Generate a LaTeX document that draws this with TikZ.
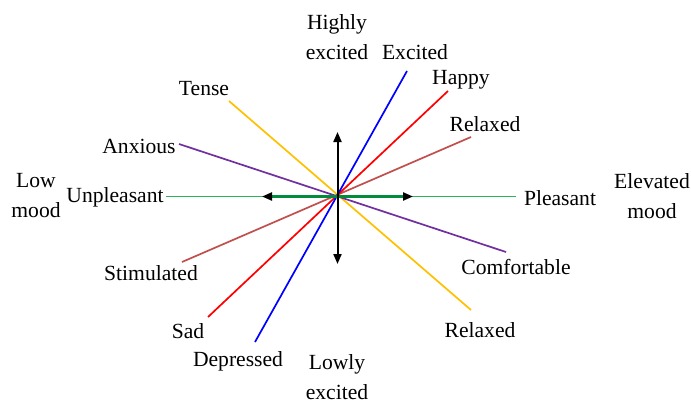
\documentclass[tikz,border=0pt]{standalone}
\usepackage{fontspec}
\setmainfont{Liberation Serif}
\newfontfamily\moodfont{Liberation Serif}
\usetikzlibrary{arrows.meta}
\definecolor{rayblue}{RGB}{0,0,255}
\definecolor{rayred}{RGB}{255,0,0}
\definecolor{raybrown}{RGB}{192,80,77}
\definecolor{rayyellow}{RGB}{255,192,0}
\definecolor{raypurple}{RGB}{112,48,160}
\definecolor{raygreen}{RGB}{46,178,96}
\definecolor{axisgreen}{RGB}{0,140,60}

\begin{document}
\begin{tikzpicture}[x=0.5pt, y=-0.5pt,
    >={Triangle[length=5pt, width=4pt, color=black]},
    lbl/.style={font=\moodfont\fontsize{10.8}{15}\selectfont, align=center, inner sep=0pt},
    ray/.style={line width=0.85pt},
]
    \useasboundingbox (0,0) rectangle (691,402);

    % Centre of the mood plane
    \coordinate (o) at (337.5,196.5);

    % Ray end points
    \coordinate (excitedEnd)    at (407,71);
    \coordinate (depressedEnd)  at (255,342);
    \coordinate (happyEnd)      at (448,91);
    \coordinate (sadEnd)        at (208,317);
    \coordinate (relaxedEnd)    at (471,137);
    \coordinate (stimulatedEnd) at (182,262);
    \coordinate (tenseEnd)      at (229,101);
    \coordinate (calmEnd)       at (471,310);
    \coordinate (anxiousEnd)    at (179,144);
    \coordinate (comfortEnd)    at (506,252);
    \coordinate (unpleasantEnd) at (166,196.5);
    \coordinate (pleasantEnd)   at (516,196.5);
    \coordinate (leftTip)       at (262,196.5);
    \coordinate (rightTip)      at (413,196.5);
    \coordinate (upTip)         at (337.5,132);
    \coordinate (downTip)       at (337.5,264);

    % Labels
    \node[lbl] (highly)     at (337,37)  {Highly\\excited};
    \node[lbl] (lowly)      at (337,377) {Lowly\\excited};
    \node[lbl] (lowmood)    at (36,196)  {Low\\mood};
    \node[lbl] (elevated)   at (652,196) {Elevated\\mood};
    \node[lbl] (excited)    at (415,52)  {Excited};
    \node[lbl] (happy)      at (461,80)  {Happy};
    \node[lbl] (relaxed)    at (485,124) {Relaxed};
    \node[lbl] (tense)      at (204,89)  {Tense};
    \node[lbl] (anxious)    at (139,146) {Anxious};
    \node[lbl] (unpleasant) at (115,197) {Unpleasant};
    \node[lbl] (pleasant)   at (560,198) {Pleasant};
    \node[lbl] (stimulated) at (151,273) {Stimulated};
    \node[lbl] (comfort)    at (516,267) {Comfortable};
    \node[lbl] (sad)        at (188,331) {Sad};
    \node[lbl] (depressed)  at (238,361) {Depressed};
    \node[lbl] (calm)       at (480,330) {Relaxed};

    % Rays through the centre
    \draw[ray, rayyellow] (tenseEnd) -- (calmEnd);
    \draw[ray, raybrown]  (relaxedEnd) -- (stimulatedEnd);
    \draw[ray, rayred]    (happyEnd) -- (sadEnd);
    \draw[ray, rayblue]   (excitedEnd) -- (depressedEnd);
    \draw[ray, raygreen]  (unpleasantEnd) -- (pleasantEnd);
    \draw[ray, raypurple] (anxiousEnd) -- (comfortEnd);

    % Axes
    \draw[line width=1.1pt, axisgreen, <->] (leftTip) -- (rightTip);
    \draw[line width=1pt, black, <->] (upTip) -- (downTip);
\end{tikzpicture}
\end{document}
